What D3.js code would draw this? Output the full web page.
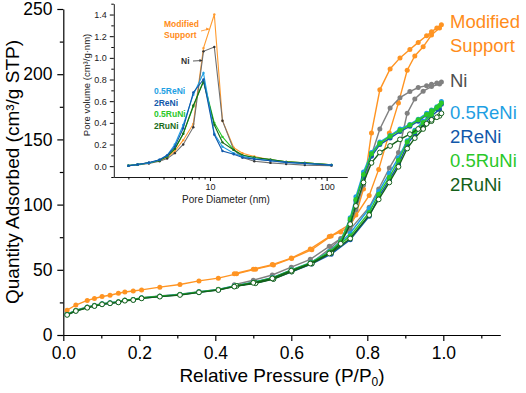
<!DOCTYPE html>
<html><head><meta charset="utf-8">
<script src="https://cdn.jsdelivr.net/npm/d3@7/dist/d3.min.js"></script>
<style>body{margin:0;background:#fff;}svg{display:block;font-family:"Liberation Sans",Arial,sans-serif;}</style>
</head><body><svg id="c" width="526" height="393"></svg>
<script>
// ---------- Main isotherm data ----------
const seriesNames = ["Modified Support","Ni","0.5ReNi","2ReNi","0.5RuNi","2RuNi"];
const seriesColors = ["#ff9422","#808080","#1e9fe3","#1258aa","#2ac82a","#14601a"];
const labelColors  = ["#ff8c1a","#505050","#1e9fe3","#1258aa","#2ac82a","#14601a"];
const pAds = [0.01,0.033,0.063,0.082,0.102,0.123,0.145,0.162,0.184,0.206,0.254,0.307,0.357,0.408,0.456,0.506,0.553,0.601,0.654,0.705,0.755,0.805,0.83,0.858,0.882,0.905,0.925,0.947,0.969,0.99];
const adsSupport = [19,23,26.5,28,29.5,30.5,32,33,33.7,34.6,36.7,38.7,41.5,43.6,46.9,50.5,53.6,58.7,65.4,76,85,107,127,155,178,203,214,221,230,235.5];
const adsNi      = [16,19,21.5,22.8,24,24.8,25.6,26.8,27.3,28.6,30,31.3,33.3,35,38,40.3,43.5,49,55.5,67,81,98,112,128,140,170,181,187,190.5,192.5];
const ads05ReNi  = [15.8,18.8,21.3,22.6,23.9,24.7,25.4,26.7,27.2,28.5,29.8,31.1,33.1,34.9,38,40.1,43.3,49.2,55.5,64,78,97,110,124,136,149,157,164,170,175];
const ads2ReNi   = [15.5,18.5,21,22.3,23.6,24.4,25.1,26.4,26.9,28.2,29.5,30.8,32.8,34.6,37.7,39.8,43,48.5,54.5,62,73,91,106,119,131,146,154,161,168,173];
const ads05RuNi  = [15.7,18.7,21.2,22.5,23.8,24.6,25.3,26.6,27.1,28.4,29.7,31,33,34.8,37.9,40,43.2,49,55.2,64,76,94,108,121,134,148,156,163,169,176];
const ads2RuNi   = [15.4,18.4,20.9,22.2,23.5,24.3,25,26.3,26.8,28.1,29.4,30.7,32.7,34.5,37.6,39.7,42.9,48.6,54.8,63,74,92,104,117,129,143,151,158,164,168];
const pDes = [0.995,0.983,0.969,0.956,0.934,0.912,0.886,0.86,0.833,0.811,0.79,0.77,0.755,0.73,0.70,0.65,0.60,0.55,0.50,0.45];
const desSupport = [238,235.5,232.5,229.5,224.4,219,212.5,204,188,155,112,92,84,79,75.5,66,59,54,50.5,47];
const desNi      = [194,193.3,192.3,191.2,189.8,186.7,182,174,158,138,115,96,84,74,68,58,52,46,42,38.5];
const des05ReNi  = [179,175,172.5,170,165.5,161.5,158,153,148,140,125,106,90,72,64,55.5,50,44,40.5,37.5];
const des2ReNi   = [177,173.5,171,168.5,164,160,156,151,146,137,121,103,88,71,63,55,49.5,43.6,40.2,37.3];
const des05RuNi  = [178,174.5,172,169,165,161,157,152.5,147,139,123,104,89,71.5,63.5,55.3,49.8,43.8,40.3,37.4];
const des2RuNi   = [170,167,165,162,158,154,150,145,140,132,117,99,85,70,62.5,54.8,49.3,43.4,40,37.1];
const adsAll = [adsSupport,adsNi,ads05ReNi,ads2ReNi,ads05RuNi,ads2RuNi];
const desAll = [desSupport,desNi,des05ReNi,des2ReNi,des05RuNi,des2RuNi];
const xTicks = [0,0.2,0.4,0.6,0.8,1.0];
const yTicks = [0,50,100,150,200,250];

// ---------- Inset pore size distribution data ----------
const dia = [2.0,2.4,3.0,3.7,4.3,5.0,5.9,7.2,8.8,10.9,12.8,16,19,24,33,45,65,110];
const psdSupport = [0.005,0.015,0.03,0.05,0.08,0.14,0.24,0.39,1.09,1.40,0.42,0.17,0.12,0.09,0.06,0.04,0.03,0.012];
const psdNi      = [0.004,0.012,0.025,0.045,0.07,0.12,0.2,0.36,1.06,1.10,0.42,0.15,0.08,0.045,0.03,0.02,0.01,0.005];
const psd05ReNi  = [0.005,0.015,0.03,0.06,0.1,0.2,0.38,0.66,0.86,0.30,0.18,0.12,0.09,0.07,0.05,0.035,0.025,0.012];
const psd2ReNi   = [0.003,0.016,0.034,0.06,0.1,0.18,0.35,0.68,0.80,0.29,0.14,0.11,0.08,0.065,0.05,0.035,0.025,0.01];
const psd05RuNi  = [0.005,0.015,0.03,0.055,0.09,0.16,0.30,0.55,0.79,0.40,0.27,0.15,0.10,0.08,0.06,0.04,0.03,0.012];
const psd2RuNi   = [0.005,0.015,0.03,0.055,0.09,0.16,0.30,0.56,0.78,0.38,0.22,0.15,0.10,0.08,0.06,0.04,0.03,0.012];
const psdAll = [psdSupport,psdNi,psd05ReNi,psd2ReNi,psd05RuNi,psd2RuNi];
const insetYTicks = [0,0.2,0.4,0.6,0.8,1.0,1.2,1.4];
const insetXTicks = [10,100];

const svg = d3.select("#c");

// ---------- Main axes ----------
const x = d3.scaleLinear().domain([0,1.15]).range([63.3,500.3]);
const y = d3.scaleLinear().domain([0,250]).range([335,9]);

const xAxis = svg.append("g").attr("transform","translate(0,335)")
  .call(d3.axisBottom(x).tickValues(xTicks).tickFormat(d3.format(".1f")).tickSize(6).tickSizeOuter(0));
svg.append("g").attr("transform","translate(0,335)")
  .call(d3.axisBottom(x).tickValues([0.1,0.3,0.5,0.7,0.9,1.1]).tickFormat("").tickSize(3.5).tickSizeOuter(0))
  .select(".domain").remove();
const yAxis = svg.append("g").attr("transform","translate(63.3,0)")
  .call(d3.axisLeft(y).tickValues(yTicks).tickSize(6).tickSizeOuter(0));
svg.append("g").attr("transform","translate(63.3,0)")
  .call(d3.axisLeft(y).tickValues([25,75,125,175,225]).tickFormat("").tickSize(3.5).tickSizeOuter(0))
  .select(".domain").remove();
svg.selectAll(".domain, .tick line").attr("stroke","#000").attr("stroke-width",1.2);
xAxis.selectAll("text").attr("font-size",17.5).attr("font-family","Liberation Sans, Arial").attr("fill","#000").attr("dy","0.85em");
yAxis.selectAll("text").attr("font-size",17.5).attr("font-family","Liberation Sans, Arial").attr("fill","#000").attr("dx","-0.1em");

svg.append("text").attr("transform","translate(19,172) rotate(-90)").attr("text-anchor","middle")
  .attr("font-size",19).text("Quantity Adsorbed (cm³/g STP)");
const xt = svg.append("text").attr("x",282).attr("y",382).attr("text-anchor","middle").attr("font-size",19);
xt.append("tspan").text("Relative Pressure (P/P");
xt.append("tspan").attr("font-size",12).attr("dy",4).text("0");
xt.append("tspan").attr("dy",-4).text(")");

const line = d3.line().x(d=>x(d[0])).y(d=>y(d[1]));
for (let i=0;i<seriesNames.length;i++){
  const ads = pAds.map((p,j)=>[p,adsAll[i][j]]);
  const des = pDes.map((p,j)=>[p,desAll[i][j]]);
  const g = svg.append("g");
  const open = i===5;
  [ads,des].forEach(pts=>{
    g.append("path").datum(pts).attr("d",line).attr("fill","none")
      .attr("stroke",seriesColors[i]).attr("stroke-width",1.4);
    g.selectAll(null).data(pts).enter().append("circle")
      .attr("cx",d=>x(d[0])).attr("cy",d=>y(d[1])).attr("r",open?2.4:2.5)
      .attr("fill",open?"#fff":seriesColors[i]).attr("stroke",seriesColors[i]).attr("stroke-width",open?1:0);
  });
}

// right labels
const rl = [["Modified",22],["Support",46],["Ni",81],["0.5ReNi",113],["2ReNi",137],["0.5RuNi",161],["2RuNi",185]];
const rlColorIdx = [0,0,1,2,3,4,5];
rl.forEach((r,k)=>{
  svg.append("text").attr("x",450).attr("y",r[1]).attr("dy","0.35em").attr("font-size",18.5)
    .attr("fill",labelColors[rlColorIdx[k]]).text(r[0]);
});

// ---------- Inset ----------
const xi = d3.scaleLog().domain([1.5,150]).range([113.8,347.2]);
const yi = d3.scaleLinear().domain([-0.1,1.5]).range([177,3.7]);
const ixa = svg.append("g").attr("transform","translate(0,177)")
  .call(d3.axisBottom(xi).tickValues(insetXTicks).tickFormat(d3.format("d")).tickSize(4).tickSizeOuter(0));
const minorX = [2,3,4,5,6,7,8,9,20,30,40,50,60,70,80,90];
svg.append("g").attr("transform","translate(0,177)")
  .call(d3.axisBottom(xi).tickValues(minorX).tickFormat("").tickSize(2.5).tickSizeOuter(0))
  .select(".domain").remove();
const iya = svg.append("g").attr("transform","translate(113.8,0)")
  .call(d3.axisLeft(yi).tickValues(insetYTicks).tickFormat(d3.format(".1f")).tickSize(4).tickSizeOuter(0));
svg.append("g").attr("transform","translate(113.8,0)")
  .call(d3.axisLeft(yi).tickValues([-0.1,0.1,0.3,0.5,0.7,0.9,1.1,1.3,1.5]).tickFormat("").tickSize(2.5).tickSizeOuter(0))
  .select(".domain").remove();
[ixa,iya].forEach(a=>{a.selectAll("text").attr("font-size",9).attr("font-family","Liberation Sans, Arial").attr("fill","#222");});
svg.selectAll(".domain").attr("stroke","#000");
iya.selectAll(".domain").attr("stroke-width",0.9);
ixa.selectAll(".domain").attr("stroke-width",0.9);
svg.append("text").attr("transform","translate(90,85) rotate(-90)").attr("text-anchor","middle")
  .attr("font-size",9.5).attr("fill","#222").text("Pore volume (cm³/g·nm)");
svg.append("text").attr("x",226).attr("y",203).attr("text-anchor","middle")
  .attr("font-size",10).attr("fill","#222").text("Pore Diameter (nm)");

const iline = d3.line().x(d=>xi(d[0])).y(d=>yi(d[1]));
const psdColors = ["#ff9a2e","#707070","#1e9fe3","#1258aa","#2ac82a","#1a6b1a"];
[0,1,4,5,2,3].forEach(i=>{
  const pts = dia.map((d,j)=>[d,psdAll[i][j]]);
  svg.append("path").datum(pts).attr("d",iline).attr("fill","none").attr("stroke",psdColors[i]).attr("stroke-width",1.1);
  svg.append("g").selectAll("circle").data(pts).enter().append("circle")
    .attr("cx",d=>xi(d[0])).attr("cy",d=>yi(d[1])).attr("r",1.2).attr("fill",i===1?"#333":psdColors[i]);
});

// inset annotations
svg.append("text").attr("x",164).attr("y",27).attr("font-size",8.5).attr("font-weight","bold").attr("fill","#ff8c1a").text("Modified");
svg.append("text").attr("x",164).attr("y",38).attr("font-size",8.5).attr("font-weight","bold").attr("fill","#ff8c1a").text("Support");
svg.append("line").attr("x1",201).attr("y1",31).attr("x2",209).attr("y2",29).attr("stroke","#ff8c1a").attr("stroke-width",0.8);
svg.append("path").attr("d","M209,29 l-3,-1.5 l0.6,3 z").attr("fill","#ff8c1a");
svg.append("text").attr("x",181).attr("y",64).attr("font-size",8.5).attr("font-weight","bold").attr("fill","#333").text("Ni");
svg.append("line").attr("x1",193).attr("y1",61).attr("x2",202).attr("y2",60.5).attr("stroke","#333").attr("stroke-width",0.8);
svg.append("path").attr("d","M202.5,60.5 l-3,-1.5 l0,3 z").attr("fill","#333");
const il = [["0.5ReNi",94,"#1e9fe3"],["2ReNi",105.5,"#1258aa"],["0.5RuNi",117,"#2ac82a"],["2RuNi",128.5,"#1a6b1a"]];
il.forEach(r=>svg.append("text").attr("x",154).attr("y",r[1]).attr("font-size",8.5).attr("font-weight","bold").attr("fill",r[2]).text(r[0]));
</script></body></html>
